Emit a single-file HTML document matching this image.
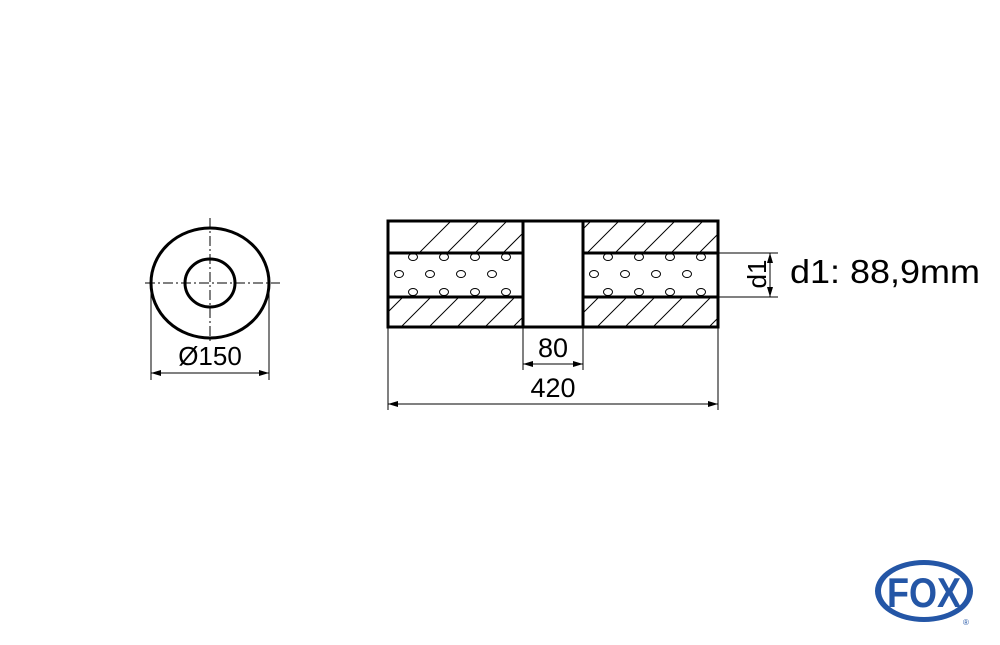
<!DOCTYPE html>
<html><head><meta charset="utf-8"><style>body{margin:0;background:#fff}svg{display:block}</style></head><body>
<svg width="1000" height="645" viewBox="0 0 1000 645" xmlns="http://www.w3.org/2000/svg" font-family="Liberation Sans, sans-serif">
<defs>
<clipPath id="c1"><rect x="388" y="221" width="135" height="32"/><rect x="388" y="297" width="135" height="30"/><rect x="583" y="221" width="135" height="32"/><rect x="583" y="297" width="135" height="30"/></clipPath>
<marker id="a" viewBox="0 0 10 6" refX="10" refY="3" markerWidth="14" markerHeight="6" markerUnits="userSpaceOnUse" orient="auto-start-reverse"><path d="M0,0 L10,3 L0,6 z" fill="#000"/></marker>
</defs>
<g stroke="#000" fill="none">
<ellipse cx="210" cy="283" rx="59" ry="55" stroke-width="3"/>
<ellipse cx="210" cy="283" rx="25" ry="24" stroke-width="3"/>
<line x1="145" y1="283" x2="280" y2="283" stroke-width="1" stroke-dasharray="10,3,2,3"/>
<line x1="210" y1="218" x2="210" y2="342" stroke-width="1" stroke-dasharray="10,3,2,3"/>
<line x1="151" y1="290" x2="151" y2="380" stroke-width="1"/>
<line x1="269" y1="290" x2="269" y2="380" stroke-width="1"/>
<line x1="151" y1="373" x2="269" y2="373" stroke-width="1" marker-start="url(#a)" marker-end="url(#a)"/>
</g>
<text x="210" y="365" font-size="26" text-anchor="middle">Ø150</text>
<g clip-path="url(#c1)" stroke="#000" stroke-width="1">
<path d="M360,340 L480,220 M388,340 L508,220 M416,340 L536,220 M444,340 L564,220 M472,340 L592,220 M500,340 L620,220 M528,340 L648,220 M556,340 L676,220 M584,340 L704,220 M612,340 L732,220 M640,340 L760,220 M668,340 L788,220 M696,340 L816,220 M332,340 L452,220"/>
</g>
<g stroke="#000" fill="none" stroke-width="3">
<rect x="388" y="221" width="330" height="106"/>
<line x1="523" y1="221" x2="523" y2="327"/>
<line x1="583" y1="221" x2="583" y2="327"/>
<line x1="388" y1="253" x2="523" y2="253"/>
<line x1="388" y1="297" x2="523" y2="297"/>
<line x1="583" y1="253" x2="718" y2="253"/>
<line x1="583" y1="297" x2="718" y2="297"/>
</g>
<g stroke="#000" fill="none" stroke-width="1">
<g id="h">
<ellipse cx="413" cy="257" rx="4.5" ry="3.5"/><ellipse cx="444" cy="257" rx="4.5" ry="3.5"/><ellipse cx="475" cy="257" rx="4.5" ry="3.5"/><ellipse cx="506" cy="257" rx="4.5" ry="3.5"/>
<ellipse cx="399" cy="274" rx="4.5" ry="3.5"/><ellipse cx="430" cy="274" rx="4.5" ry="3.5"/><ellipse cx="461" cy="274" rx="4.5" ry="3.5"/><ellipse cx="492" cy="274" rx="4.5" ry="3.5"/>
<ellipse cx="413" cy="292" rx="4.5" ry="3.5"/><ellipse cx="444" cy="292" rx="4.5" ry="3.5"/><ellipse cx="475" cy="292" rx="4.5" ry="3.5"/><ellipse cx="506" cy="292" rx="4.5" ry="3.5"/>
</g>
<use href="#h" transform="translate(195,0)"/>
<line x1="388" y1="327" x2="388" y2="410"/>
<line x1="718" y1="327" x2="718" y2="410"/>
<line x1="523" y1="327" x2="523" y2="370"/>
<line x1="583" y1="327" x2="583" y2="370"/>
<line x1="523" y1="364" x2="583" y2="364" marker-start="url(#a)" marker-end="url(#a)"/>
<line x1="388" y1="404" x2="718" y2="404" marker-start="url(#a)" marker-end="url(#a)"/>
<line x1="718" y1="253" x2="778" y2="253"/>
<line x1="718" y1="297" x2="778" y2="297"/>
<line x1="770" y1="253" x2="770" y2="297" marker-start="url(#a)" marker-end="url(#a)"/>
</g>
<text x="553" y="357" font-size="27" text-anchor="middle">80</text>
<text x="553" y="397" font-size="27" text-anchor="middle">420</text>
<text transform="translate(766,274) rotate(-90)" font-size="26" text-anchor="middle">d1</text>
<text x="790" y="283" font-size="33" textLength="190" lengthAdjust="spacingAndGlyphs">d1: 88,9mm</text>
<ellipse cx="924" cy="591" rx="49" ry="31" fill="#2456a6"/>
<ellipse cx="924" cy="591" rx="43" ry="26" fill="#fff"/>
<text x="924" y="607" font-size="42" font-weight="bold" fill="#2456a6" text-anchor="middle" textLength="74" lengthAdjust="spacingAndGlyphs">FOX</text>
<text x="963" y="625" font-size="8" fill="#2456a6">®</text>
</svg>
</body></html>
